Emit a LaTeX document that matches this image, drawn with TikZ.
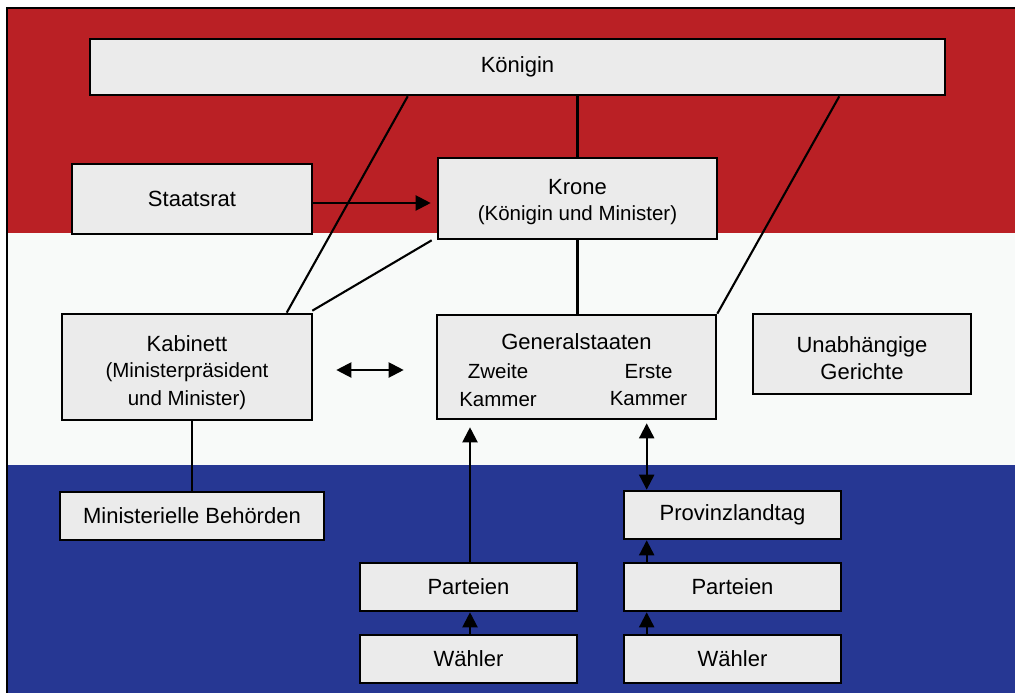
\documentclass[tikz,border=0pt]{standalone}
\usepackage{fontspec}
\setmainfont{Liberation Sans}
\usetikzlibrary{arrows.meta,calc}
\definecolor{nlred}{RGB}{186,32,37}
\definecolor{nlwhite}{RGB}{248,250,249}
\definecolor{nlblue}{RGB}{38,55,147}
\definecolor{boxfill}{RGB}{235,235,235}
\tikzset{
  box/.style={draw=black, line width=2.6pt, fill=boxfill, inner sep=0pt, align=center,
    font=\fontsize{22}{27.5}\selectfont},
  lbl/.style={inner sep=0pt, align=center, font=\fontsize{22}{27.5}\selectfont},
  sublbl/.style={inner sep=0pt, align=center, font=\fontsize{20.5}{27.5}\selectfont},
  conn/.style={line width=2.1pt},
  arr/.style={conn, -{Triangle[length=15pt,width=15pt]}},
  darr/.style={conn, {Triangle[length=15pt,width=15pt]}-{Triangle[length=15pt,width=15pt]}},
}
\begin{document}
\begin{tikzpicture}[x=1pt,y=-1pt]
\useasboundingbox (0,0) rectangle (1015,693);
\clip (0,0) rectangle (1015,693);
% background flag
\fill[white] (0,0) rectangle (1015,693);
\fill[nlred] (7,8) rectangle (1030,233);
\fill[nlwhite] (7,233) rectangle (1030,465);
\fill[nlblue] (7,465) rectangle (1030,710);
\draw[line width=2.2pt] (7,8) rectangle (1030,710);

% boxes
\node[box, minimum width=855pt, minimum height=56pt] (koenigin) at (517.5,67) {Königin};
\node[box, minimum width=240pt, minimum height=70pt] (staatsrat) at (192,199) {Staatsrat};
\node[box, minimum width=279pt, minimum height=81pt] (krone) at (577.5,198.5) {};
\node[lbl] (kronet) at (577.5,187) {Krone};
\node[sublbl] (krones) at (577.5,215) {(Königin und Minister)};
\node[box, minimum width=250pt, minimum height=106pt] (kab) at (187,367) {};
\node[lbl] (kabt) at (187,344) {Kabinett};
\node[sublbl] (kabs) at (187,386) {(Ministerpräsident\\und Minister)};
\node[box, minimum width=279pt, minimum height=104pt] (gen) at (576.5,367) {};
\node[lbl] (gent) at (576.5,342) {Generalstaaten};
\node[sublbl] (genz) at (498,385) {Zweite\\Kammer};
\node[sublbl] (gene) at (648.5,385) {Erste\\Kammer};
\node[box, minimum width=218pt, minimum height=80pt] (ger) at (862,354) {};
\node[lbl] (gert) at (862,358) {Unabhängige\\Gerichte};
\node[box, minimum width=264pt, minimum height=48pt] (beh) at (192,516) {Ministerielle Behörden};
\node[box, minimum width=217pt, minimum height=48pt] (prov) at (732.5,515) {Provinzlandtag};
\node[box, minimum width=217pt, minimum height=48pt] (partL) at (468.5,587) {Parteien};
\node[box, minimum width=217pt, minimum height=48pt] (partR) at (732.5,587) {Parteien};
\node[box, minimum width=217pt, minimum height=48pt] (waehL) at (468.5,659) {Wähler};
\node[box, minimum width=217pt, minimum height=48pt] (waehR) at (732.5,659) {Wähler};

% connectors
\draw[conn] (koenigin.south -| krone.north) -- (krone.north);
\draw[conn] (krone.south) -- (krone.south |- gen.north);
\draw[conn] ($(koenigin.south west)+(319,0)$) -- ($(kab.north west)+(226,0)$);
\draw[conn] ($(krone.south west)+(-5,0)$) -- ($(kab.north east)+(-1,-2)$);
\draw[conn] ($(koenigin.south east)+(-107,0)$) -- (gen.north east);
\draw[arr] ($(staatsrat.east)+(0,4)$) -- ($(krone.west |- staatsrat.east)+(-6,4)$);
\draw[darr] ($(kab.east)+(23,3)$) -- ($(gen.west)+(-32,3)$);
\draw[conn] (beh.north) -- (beh.north |- kab.south);
\coordinate (pl) at ($(partL.north)+(1.5,0)$);
\draw[arr, shorten >=7pt] (pl) -- (pl |- gen.south);
\draw[arr] ($(waehL.north)+(1.5,0)$) -- ($(partL.south)+(1.5,0)$);
\coordinate (pr) at ($(prov.north west)+(24,0)$);
\draw[darr, shorten <=3pt] (pr |- gen.south) -- (pr);
\draw[arr] ($(partR.north west)+(24,0)$) -- ($(prov.south west)+(24,0)$);
\draw[arr] ($(waehR.north west)+(24,0)$) -- ($(partR.south west)+(24,0)$);
\end{tikzpicture}
\end{document}
